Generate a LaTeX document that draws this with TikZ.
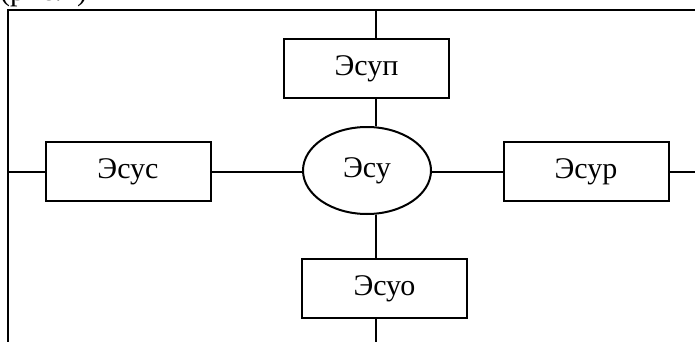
\documentclass[tikz,border=0pt]{standalone}
\usepackage{fontspec}
\setmainfont{Liberation Serif}
\usetikzlibrary{shapes.geometric}
\tikzset{
  lbl/.style={font=\fontsize{30}{36}\selectfont},
  boxnode/.style={lbl,draw,line width=2pt,minimum width=165pt,minimum height=59pt,inner sep=0pt},
  ellnode/.style={lbl,draw,ellipse,line width=2pt,minimum width=128pt,minimum height=87pt,inner sep=0pt},
  conn/.style={line width=2pt}
}
\begin{document}
\begin{tikzpicture}[x=1pt,y=-1pt]
\useasboundingbox (0,0) rectangle (695,342);
\node[lbl,anchor=base west,inner sep=0pt] (cap) at (0,0.5) {(рис.1)};
\node[boxnode] (sup) at (366.5,68.5) {Эсуп};
\node[ellnode] (sy) at (367,170.5) {Эсу};
\node[boxnode] (sus) at (128,171.5) {Эсус};
\node[boxnode] (sur) at (586,171.5) {Эсур};
\node[boxnode] (suo) at (384.5,288.5) {Эсуо};
\coordinate (tl) at (8,10);
\coordinate (tr) at (695,10);
\coordinate (bl) at (8,342);
\coordinate (vtop) at (376,10);
\coordinate (vbot) at (376,342);
\coordinate (hl) at (8,172);
\coordinate (hr) at (695,172);
\draw[conn] (tr) -- (tl) -- (bl);
\draw[conn] (vtop) -- (vtop |- sup.north);
\draw[conn] (vtop |- sup.south) -- (vtop |- sy.north);
\draw[conn] (vtop |- sy.south) -- (vtop |- suo.north);
\draw[conn] (vtop |- suo.south) -- (vbot);
\draw[conn] (hl) -- (hl -| sus.west);
\draw[conn] (hl -| sus.east) -- (hl -| sy.west);
\draw[conn] (hl -| sy.east) -- (hl -| sur.west);
\draw[conn] (hl -| sur.east) -- (hr);
\end{tikzpicture}
\end{document}
